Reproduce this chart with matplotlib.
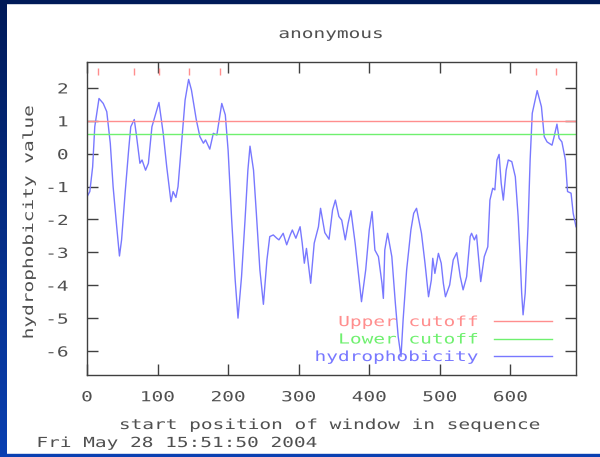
import numpy as np
import matplotlib
matplotlib.use('Agg')
import matplotlib.pyplot as plt
from matplotlib import patheffects
from matplotlib.patches import Rectangle
from matplotlib.colors import LinearSegmentedColormap
from matplotlib.transforms import Affine2D

# values
positions = [0, 4, 8, 11, 17, 23, 28, 33, 37, 42, 46, 49, 54, 59, 62, 67, 70, 75, 78, 83,
             87, 92, 96, 102, 108, 113, 119, 122, 126, 129, 134, 139, 144, 148, 155, 160,
             165, 168, 174, 179, 184, 191, 196, 200, 205, 210, 214, 219, 224, 228, 231,
             236, 240, 245, 250, 255, 259, 264, 269, 272, 278, 283, 288, 291, 296, 302,
             305, 308, 311, 317, 322, 328, 331, 337, 343, 348, 352, 357, 361, 366, 370,
             374, 380, 389, 395, 400, 404, 408, 413, 418, 420, 422, 426, 432, 437, 441,
             445, 448, 453, 459, 463, 467, 474, 479, 484, 488, 490, 493, 498, 502, 505,
             508, 514, 519, 524, 529, 533, 538, 543, 545, 549, 552, 558, 563, 568, 571,
             575, 578, 581, 584, 587, 590, 594, 597, 602, 607, 611, 614, 616, 618, 621,
             625, 628, 631, 638, 644, 648, 652, 659, 662, 666, 669, 673, 678, 681, 686,
             689, 693]
hydro = [-1.31, -1.15, -0.4, 0.82, 1.68, 1.53, 1.28, 0.32, -1.0, -2.2, -3.11, -2.62, -1.2,
         0.11, 0.82, 1.04, 0.57, -0.29, -0.19, -0.5, -0.29, 0.82, 1.12, 1.56, 0.62, -0.4,
         -1.46, -1.15, -1.33, -1.0, 0.32, 1.63, 2.26, 1.94, 1.02, 0.52, 0.32, 0.42, 0.14,
         0.62, 0.57, 1.53, 1.18, 0.1, -2.0, -3.84, -5.0, -3.74, -2.0, -0.5, 0.23, -0.5,
         -1.81, -3.53, -4.58, -3.23, -2.52, -2.47, -2.57, -2.62, -2.42, -2.77, -2.47,
         -2.32, -2.57, -2.22, -2.72, -3.33, -2.88, -3.94, -2.72, -2.22, -1.66, -2.4, -2.6,
         -1.71, -1.41, -1.91, -2.02, -2.62, -2.12, -1.73, -2.72, -4.5, -3.53, -2.32,
         -1.76, -2.93, -3.13, -3.94, -4.4, -2.93, -2.42, -3.13, -4.55, -5.56, -6.17,
         -5.05, -3.53, -2.32, -1.81, -1.66, -2.42, -3.33, -4.35, -3.84, -3.18, -3.64,
         -3.03, -3.33, -3.94, -4.35, -3.99, -3.23, -3.01, -3.74, -4.14, -3.74, -2.52,
         -2.42, -2.62, -2.47, -3.89, -3.13, -2.83, -1.41, -1.05, -1.1, -0.19, -0.02,
         -0.9, -1.41, -0.5, -0.19, -0.24, -0.7, -1.91, -3.23, -4.24, -4.9, -4.24, -2.22,
         -0.19, 1.23, 1.92, 1.43, 0.52, 0.36, 0.26, 0.52, 0.9, 0.47, 0.36, -0.19, -1.15,
         -1.2, -1.81, -2.22]
upper_cutoff = 1.0
lower_cutoff = 0.6
peak_positions = [15, 67, 102, 144, 189, 636, 665]
x_ticks = [0, 100, 200, 300, 400, 500, 600]
y_ticks = [-6, -5, -4, -3, -2, -1, 0, 1, 2]

W, H = 600, 457
FONT = 'DejaVu Sans Mono'
TXT = '#505050'
SX = 1.4

plt.rcParams['axes.unicode_minus'] = False
plt.rcParams['font.family'] = FONT
plt.rcParams['font.size'] = 10


class Stretch(patheffects.AbstractPathEffect):
    # gnuplot's font is spaced much wider than any installed one
    def __init__(self, sx, anchor='center'):
        super().__init__()
        self.sx = sx
        self.anchor = anchor

    def draw_path(self, renderer, gc, tpath, affine, rgbFace=None):
        ext = tpath.get_extents()
        x0 = {'left': ext.x0, 'center': (ext.x0 + ext.x1) / 2, 'right': ext.x1}[self.anchor]
        t = Affine2D().translate(-x0, 0).scale(self.sx, 1).translate(x0, 0) + affine
        renderer.draw_path(gc, tpath, t, rgbFace)


fig = plt.figure(figsize=(W / 100, H / 100), dpi=100)
fig.patch.set_facecolor('white')

# slide frame
side = fig.add_axes([0, 0, 7 / W, 1])
side.imshow(np.linspace(0, 1, 256).reshape(-1, 1), aspect='auto', origin='lower',
            cmap=LinearSegmentedColormap.from_list('band', ['#0a40b2', '#001a58']))
side.axis('off')
fig.patches.append(Rectangle((0, 1 - 3 / H), 1, 3 / H, transform=fig.transFigure,
                             color='#001a58', zorder=5))
fig.patches.append(Rectangle((0, 0), 1, 3 / H, transform=fig.transFigure,
                             color='#0a40b2', zorder=5))

ax = fig.add_axes([87 / W, 1 - 375 / H, (576 - 87) / W, (375 - 62) / H])
h_hyd, = ax.plot(positions, hydro, color='#7878ff', lw=1, label='hydrophobicity')
h_up = ax.axhline(upper_cutoff, color='#ff8e8e', lw=1, label='Upper cutoff')
h_low = ax.axhline(lower_cutoff, color='#6ff06f', lw=1, label='Lower cutoff')
ax.vlines(peak_positions, 2.4, 2.6, color='#ff8e8e', lw=1)

ax.set_xlim(0, 693)
ax.set_ylim(-6.73, 2.79)
ax.set_xticks(x_ticks)
ax.set_yticks(y_ticks)
ax.tick_params(direction='in', length=8, width=1, top=True, right=True,
               color='#404040', labelcolor=TXT, labelsize=10)
ax.tick_params(axis='x', pad=11)
ax.tick_params(axis='y', pad=13.5)
for s in ax.spines.values():
    s.set_color('#404040')
    s.set_linewidth(1)
for t in ax.get_xticklabels():
    t.set_path_effects([Stretch(SX, 'center')])
for t in ax.get_yticklabels():
    t.set_path_effects([Stretch(SX, 'right')])

leg = ax.legend(handles=[h_up, h_low, h_hyd], loc='lower right',
                bbox_to_anchor=((552 - 87) / 489, 11 / 313), frameon=False,
                markerfirst=False, labelcolor='linecolor', handlelength=4.2,
                handletextpad=1.1, labelspacing=0.25, borderpad=0, borderaxespad=0)
for t in leg.get_texts():
    t.set_path_effects([Stretch(SX, 'right')])

fig.text(331 / W, 1 - 34 / H, 'anonymous', ha='center', va='center', color=TXT,
         path_effects=[Stretch(SX, 'center')])
fig.text(330 / W, 1 - 425 / H, 'start position of window in sequence', ha='center',
         va='center', color=TXT, path_effects=[Stretch(SX, 'center')])
fig.text(29 / W, 1 - 222 / H, 'hydrophobicity value', ha='center', va='center',
         rotation=90, color=TXT, path_effects=[Stretch(SX, 'center')])
fig.text(37 / W, 1 - 443 / H, 'Fri May 28 15:51:50 2004', ha='left', va='center',
         color=TXT, path_effects=[Stretch(SX, 'left')])

fig.savefig('out.png', dpi=100)
